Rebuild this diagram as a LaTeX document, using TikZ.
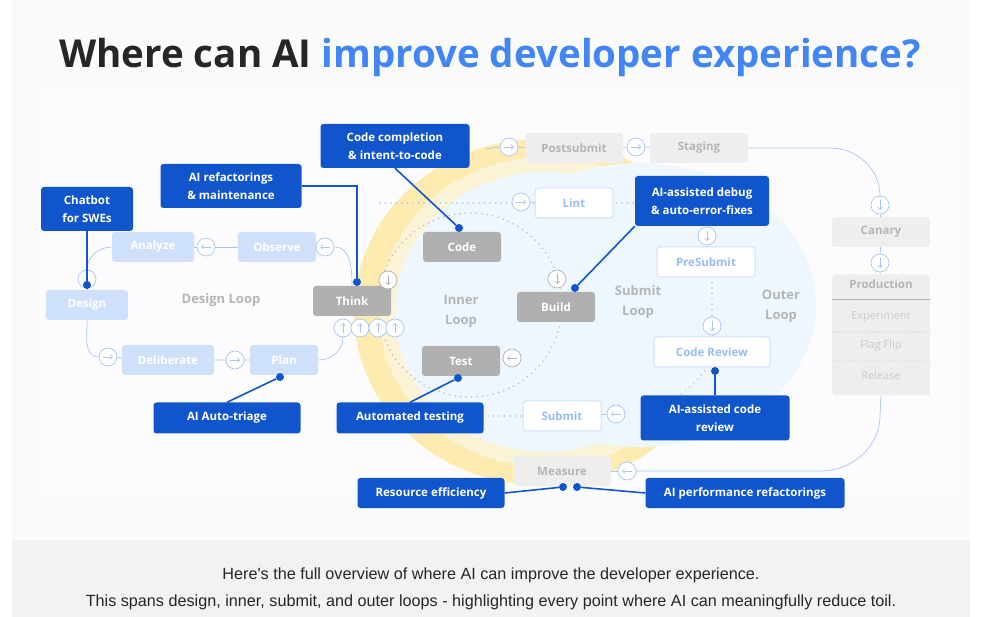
\documentclass[tikz,border=0pt]{standalone}
\usepackage{fontspec}
\setmainfont{Open Sans}
\newfontfamily\capfont{Liberation Sans}
\usetikzlibrary{arrows.meta,positioning}
\definecolor{cobalt}{HTML}{1155CC}
\definecolor{titleblue}{HTML}{4285F4}
\definecolor{paleblue}{HTML}{CFE0FB}
\definecolor{lineblue}{HTML}{A9C5F2}
\definecolor{softgray}{HTML}{EEEEEE}
\definecolor{midgray}{HTML}{B0B0B0}
\definecolor{textgray}{HTML}{B5B5B5}
\definecolor{yellowband}{HTML}{FDEBB0}
\definecolor{yellowpale}{HTML}{FBF3D6}
\definecolor{innerblue}{HTML}{EEF6FE}

\tikzset{
	box/.style = {rounded corners=3pt, minimum height=30pt, inner sep=2pt, font=\fontsize{11.5}{13}\selectfont\bfseries},
	stepgray/.style = {box, fill=midgray, text=white, minimum width=78pt},
	stepdesign/.style = {box, fill=paleblue, text=white, minimum width=82pt},
	stepsubmit/.style = {box, fill=white, draw=paleblue, line width=1pt, text=titleblue!55, minimum width=78pt},
	stepouter/.style = {box, fill=softgray, text=textgray, minimum width=98pt},
	callout/.style = {rounded corners=3pt, fill=cobalt, text=white, align=center, inner sep=2pt,
		font=\fontsize{11.5}{18}\selectfont\bfseries},
	tie/.style = {cobalt, line width=1.6pt},
	dot/.style = {circle, fill=cobalt, inner sep=0pt, minimum size=8pt},
	flow/.style = {lineblue, line width=0.7pt},
	circ/.style = {circle, draw=lineblue, fill=white, line width=0.7pt, minimum size=18pt, inner sep=0pt},
	circg/.style = {circ, draw=midgray},
	looplabel/.style = {text=textgray, align=center, font=\fontsize{13}{20}\selectfont\bfseries},
	dots/.style = {line width=1.6pt, line cap=round, dash pattern=on 0pt off 5.5pt},
}
% arrow inside a small circle: node, direction angle (y points down)
\newcommand\arrin[3][lineblue]{\draw[#1, line width=0.7pt, -{Straight Barb[length=2.5pt,width=5pt]}] (#2) ++(#3:-5) -- ++(#3:10);}

\begin{document}
\begin{tikzpicture}[x=1pt, y=-1pt]
	\useasboundingbox (0,0) rectangle (983,617);

	% card and caption band
	\fill[white] (0,0) rectangle (983,617);
	\fill[black!2] (12,0) rectangle (970,540);
	\fill[blue!1] (40,90) rectangle (960,495);
	\fill[black!5] (12,540) rectangle (970,617);

	\node[font=\fontsize{38.5}{42}\selectfont\bfseries, text=black!85] (title) at (490,58)
		{Where can AI \textcolor{titleblue}{improve developer experience?}};

	% loops background
	\fill[yellowband] (540,312) ellipse (186 and 173);
	\fill[yellowpale] (545,312) ellipse (166 and 155);
	\fill[innerblue] (640,305) ellipse (176 and 142);
	\fill[innerblue] (545,312) ellipse (150 and 140);

	% dotted loops
	\draw[dots, textgray] (470,305) circle (92);
	\draw[dots, lineblue] (380,203) -- (640,203);
	\draw[dots, lineblue] (400,416) -- (525,416);
	\draw[dots, lineblue] (712,277) -- (712,318);
	\draw[dots, lineblue] (705,371) to[bend left=15] (650,410);

	% design loop
	\node[stepdesign] (analyze) at (153,247) {Analyze};
	\node[stepdesign, minimum width=78pt] (observe) at (277,247) {Observe};
	\node[stepdesign] (design) at (87,305) {Design};
	\node[stepdesign, minimum width=92pt] (deliberate) at (168,360) {Deliberate};
	\node[stepdesign, minimum width=68pt] (plan) at (284,360) {Plan};
	\node[looplabel] (designloop) at (221,300) {Design Loop};

	% inner loop
	\node[stepgray] (code) at (462,247) {Code};
	\node[stepgray] (think) at (352,301) {Think};
	\node[stepgray] (build) at (556,307) {Build};
	\node[stepgray] (test) at (461,361) {Test};
	\node[looplabel] (innerloop) at (461,311) {Inner\\Loop};

	% submit loop
	\node[stepsubmit] (lint) at (574,203) {Lint};
	\node[stepsubmit, minimum width=98pt] (presubmit) at (706,262) {PreSubmit};
	\node[stepsubmit, minimum width=116pt] (review) at (712,352) {Code Review};
	\node[stepsubmit] (submit) at (562,416) {Submit};
	\node[looplabel] (submitloop) at (638,302) {Submit\\Loop};

	% outer loop
	\node[stepouter] (postsubmit) at (574,148) {Postsubmit};
	\node[stepouter] (staging) at (699,148) {Staging};
	\node[stepouter] (canary) at (881,232) {Canary};
	\node[stepouter] (measure) at (562,471) {Measure};
	\node[looplabel] (outerloop) at (781,306) {Outer\\Loop};
	\node[stepouter, minimum height=121pt, rounded corners=4pt] (production) at (881,335) {};
	\node[text=textgray, font=\fontsize{11.5}{13}\selectfont\bfseries] (prodhead) at (881,284) {Production};
	\draw[textgray, line width=1pt] (production.west |- 0,300) -- (production.east |- 0,300);
	\foreach \y/\name in {317/Experiment, 346/Flag Flip, 375/Release}
		\node[text=black!20, font=\fontsize{11}{13}\selectfont] (p\y) at (881,\y) {\name};
	\draw[dots, black!20, line width=1pt, dash pattern=on 0pt off 2.5pt] (832,332) -- (930,332) (832,361) -- (930,361);

	% flow arrows
	\foreach \n/\x/\y in {ca/206/247, cb/325/247, cc/87/279, cd/108/357, ce/235/360,
		cf/343/328, cg/360/328, ch/378/328, ci/395/328, cj/521/202, ck/509/147,
		cl/636/147, cm/880/205, cn/880/263, co/707/236, cp/712/326, cq/616/414, cr/627/471}
		\node[circ] (\n) at (\x,\y) {};
	\foreach \n/\x/\y in {gt/388/280, gb/557/279, gs/512/358}
		\node[circg] (\n) at (\x,\y) {};

	\draw[flow] (analyze) -- (ca) -- (observe);
	\draw[flow] (observe) -- (cb);
	\draw[flow] (cb.east) to[out=0, in=90] (think.north);
	\draw[flow] (analyze.west) to[out=180, in=90] (cc.north);
	\draw[flow] (cc) -- (design);
	\draw[flow] (design.south) to[out=270, in=180] (cd.west);
	\draw[flow] (cd) -- (deliberate) -- (ce) -- (plan);
	\draw[flow] (plan.east) to[out=0, in=270] (cf.south);
	\draw[flow] (ck) -- (postsubmit) -- (cl) -- (staging);
	\draw[flow] (ck.west) -- ++(-14,2);
	\draw[flow] (staging.east) -- (830,148) to[out=0, in=90] (cm.north);
	\draw[flow] (cm) -- (canary) -- (cn) -- (production);
	\draw[flow] (production.south) -- (880,415) to[out=270, in=0] (820,471) -- (cr);
	\draw[flow] (cr) -- (measure);
	\draw[flow] (co) -- (presubmit);
	\draw[flow] (cp) -- (review);
	\draw[flow] (cq) -- (submit);
	\draw[flow] (cj) -- (lint);

	\arrin{ca}{180} \arrin{cb}{180} \arrin{cc}{90} \arrin{cd}{0} \arrin{ce}{0}
	\arrin{cf}{270} \arrin{cg}{270} \arrin{ch}{270} \arrin{ci}{270}
	\arrin{cj}{0} \arrin{ck}{0} \arrin{cl}{0} \arrin{cm}{90} \arrin{cn}{90}
	\arrin{co}{90} \arrin{cp}{90} \arrin{cq}{180} \arrin{cr}{180}
	\arrin[midgray]{gt}{90} \arrin[midgray]{gb}{90} \arrin[midgray]{gs}{180}

	% AI callouts
	\node[callout, minimum width=92pt, minimum height=44pt] (chatbot) at (87,209) {Chatbot\\for SWEs};
	\node[callout, minimum width=141pt, minimum height=44pt] (refactor) at (231,186) {AI refactorings\\\& maintenance};
	\node[callout, minimum width=149pt, minimum height=44pt] (completion) at (395,146) {Code completion\\\& intent-to-code};
	\node[callout, minimum width=134pt, minimum height=50pt] (debug) at (702,201) {AI-assisted debug\\\& auto-error-fixes};
	\node[callout, minimum width=147pt, minimum height=31pt] (triage) at (227,418) {AI Auto-triage};
	\node[callout, minimum width=147pt, minimum height=31pt] (testing) at (410,418) {Automated testing};
	\node[callout, minimum width=149pt, minimum height=45pt] (aireview) at (715,418) {AI-assisted code\\review};
	\node[callout, minimum width=147pt, minimum height=30pt] (resource) at (431,493) {Resource efficiency};
	\node[callout, minimum width=199pt, minimum height=30pt] (perf) at (745,493) {AI performance refactorings};

	\node[dot] (d1) at (87,285) {};
	\node[dot] (d2) at (357,282) {};
	\node[dot] (d3) at (459,228) {};
	\node[dot] (d4) at (575,288) {};
	\node[dot] (d5) at (280,377) {};
	\node[dot] (d6) at (458,378) {};
	\node[dot] (d7) at (715,371) {};
	\node[dot] (d8) at (563,487) {};
	\node[dot] (d9) at (577,487) {};

	\draw[tie] (chatbot) -- (d1);
	\draw[tie] (refactor.east) -| (d2);
	\draw[tie] (completion.south) -- (d3);
	\draw[tie] (debug.south west) -- (d4);
	\draw[tie] (triage.north) -- (d5);
	\draw[tie] (testing.north) -- (d6);
	\draw[tie] (aireview) -- (d7);
	\draw[tie] (resource.east) -- (d8);
	\draw[tie] (perf.west) -- (d9);

	% caption
	\node[font=\capfont\fontsize{16.2}{27}\selectfont, text=black!85, align=center] (caption) at (491,589)
		{Here's the full overview of where AI can improve the developer experience.\\
		This spans design, inner, submit, and outer loops - highlighting every point where AI can meaningfully reduce toil.};
\end{tikzpicture}
\end{document}
